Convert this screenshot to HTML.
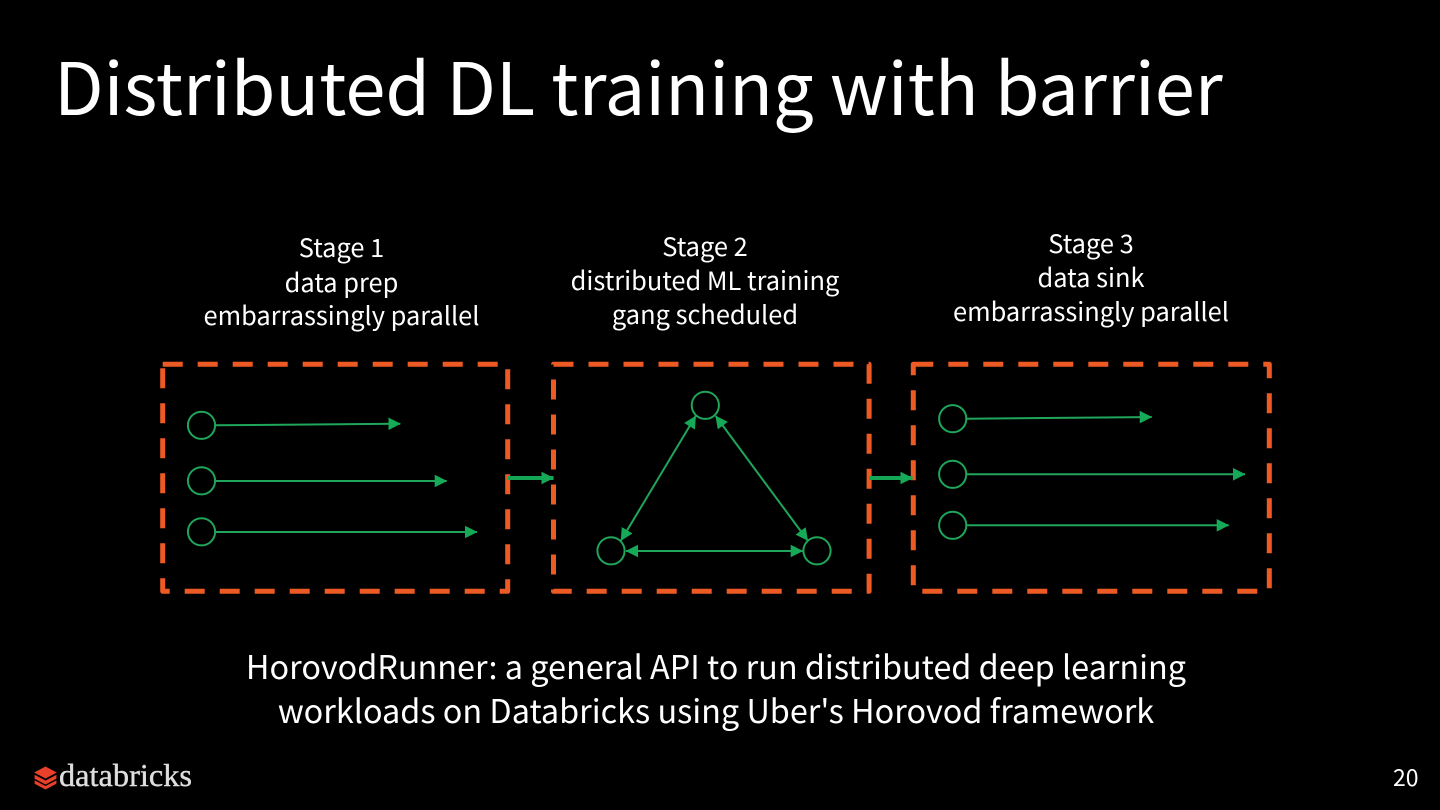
<!DOCTYPE html>
<html><head><meta charset="utf-8"><style>
html,body{margin:0;padding:0;background:#000;width:1440px;height:810px;overflow:hidden}
svg{display:block}
text{font-family:"Noto Sans CJK JP","Liberation Sans",sans-serif;fill:#fff}
.s{font-size:25.4px;text-anchor:middle}
.b{font-size:32.4px;text-anchor:middle}
.o{fill:none;stroke:#ee5a24;stroke-width:5;stroke-dasharray:20 15;stroke-linejoin:round}
.c{fill:none;stroke:#1fa65a;stroke-width:2}
.l{stroke:#1fa65a;stroke-width:2;fill:none}
.t{stroke:#12a655;stroke-width:4;fill:none}
</style></head><body>
<svg width="1440" height="810" viewBox="0 0 1440 810" xmlns="http://www.w3.org/2000/svg">
<defs>
<marker id="a" markerUnits="userSpaceOnUse" markerWidth="13" markerHeight="13" refX="12" refY="6.5" orient="auto"><path d="M0 0.2L12.5 6.5L0 12.8z" fill="#16a958"/></marker>
<marker id="r" markerUnits="userSpaceOnUse" markerWidth="13" markerHeight="13" refX="0.5" refY="6.5" orient="auto"><path d="M12.5 0.2L0 6.5L12.5 12.8z" fill="#16a958"/></marker>
</defs>
<rect width="1440" height="810" fill="#000"/>
<text x="54" y="115" font-size="72.2">Distributed DL training with barrier</text>

<text class="s" x="341.5" y="257">Stage 1</text>
<text class="s" x="341.5" y="292">data prep</text>
<text class="s" x="341.5" y="325">embarrassingly parallel</text>
<text class="s" x="705" y="256">Stage 2</text>
<text class="s" x="705" y="290">distributed ML training</text>
<text class="s" x="705" y="324">gang scheduled</text>
<text class="s" x="1091" y="253">Stage 3</text>
<text class="s" x="1091" y="287">data sink</text>
<text class="s" x="1091" y="321">embarrassingly parallel</text>

<rect class="o" x="162.7" y="364.3" width="345" height="227"/>
<rect class="o" x="553.5" y="364.3" width="315.6" height="227"/>
<rect class="o" x="913.3" y="364.3" width="356" height="227"/>

<line class="t" x1="507.7" y1="478" x2="553.5" y2="478" marker-end="url(#a)"/>
<line class="t" x1="869.3" y1="478" x2="912.5" y2="478" marker-end="url(#a)"/>

<circle class="c" cx="201.5" cy="425.3" r="13.6"/>
<circle class="c" cx="201.5" cy="480.8" r="13.6"/>
<circle class="c" cx="201.5" cy="531.8" r="13.6"/>
<line class="l" x1="215" y1="425.3" x2="400.3" y2="423.7" marker-end="url(#a)"/>
<line class="l" x1="215" y1="481" x2="446.7" y2="481" marker-end="url(#a)"/>
<line class="l" x1="215" y1="532" x2="477" y2="532" marker-end="url(#a)"/>

<circle class="c" cx="705.3" cy="405.3" r="13.6"/>
<circle class="c" cx="611" cy="550.8" r="13.6"/>
<circle class="c" cx="817" cy="550.8" r="13.6"/>
<line class="l" x1="695.7" y1="416" x2="621" y2="540.5" marker-start="url(#r)" marker-end="url(#a)"/>
<line class="l" x1="715.7" y1="416" x2="807.7" y2="540.5" marker-start="url(#r)" marker-end="url(#a)"/>
<line class="l" x1="626" y1="551" x2="802.7" y2="551" marker-start="url(#r)" marker-end="url(#a)"/>

<circle class="c" cx="952.7" cy="418.7" r="13.6"/>
<circle class="c" cx="952.7" cy="474.3" r="13.6"/>
<circle class="c" cx="952.7" cy="525.3" r="13.6"/>
<line class="l" x1="966.5" y1="418.7" x2="1151.7" y2="417" marker-end="url(#a)"/>
<line class="l" x1="966.5" y1="474.3" x2="1245" y2="474.3" marker-end="url(#a)"/>
<line class="l" x1="966.5" y1="525.3" x2="1228.7" y2="525.3" marker-end="url(#a)"/>

<text class="b" x="716" y="679">HorovodRunner: a general API to run distributed deep learning</text>
<text class="b" x="716" y="723">workloads on Databricks using Uber's Horovod framework</text>

<g fill="#e8402a" stroke="#e8402a" stroke-width="0.8">
<path d="M45.5 767L56 772.5L45.5 778L35 772.5z"/>
<path d="M35 775.5L45.5 781L56 775.5V778.5L45.5 784L35 778.5z"/>
<path d="M35 781L45.5 786.5L56 781V783.5L45.5 789L35 783.5z"/>
</g>
<text x="59" y="786" font-size="32" style="font-family:'Liberation Serif',serif;fill:#dedede;stroke:#dedede;stroke-width:0.4" textLength="133" lengthAdjust="spacingAndGlyphs">databricks</text>
<text x="1393" y="786" font-size="23">20</text>
</svg>
</body></html>
